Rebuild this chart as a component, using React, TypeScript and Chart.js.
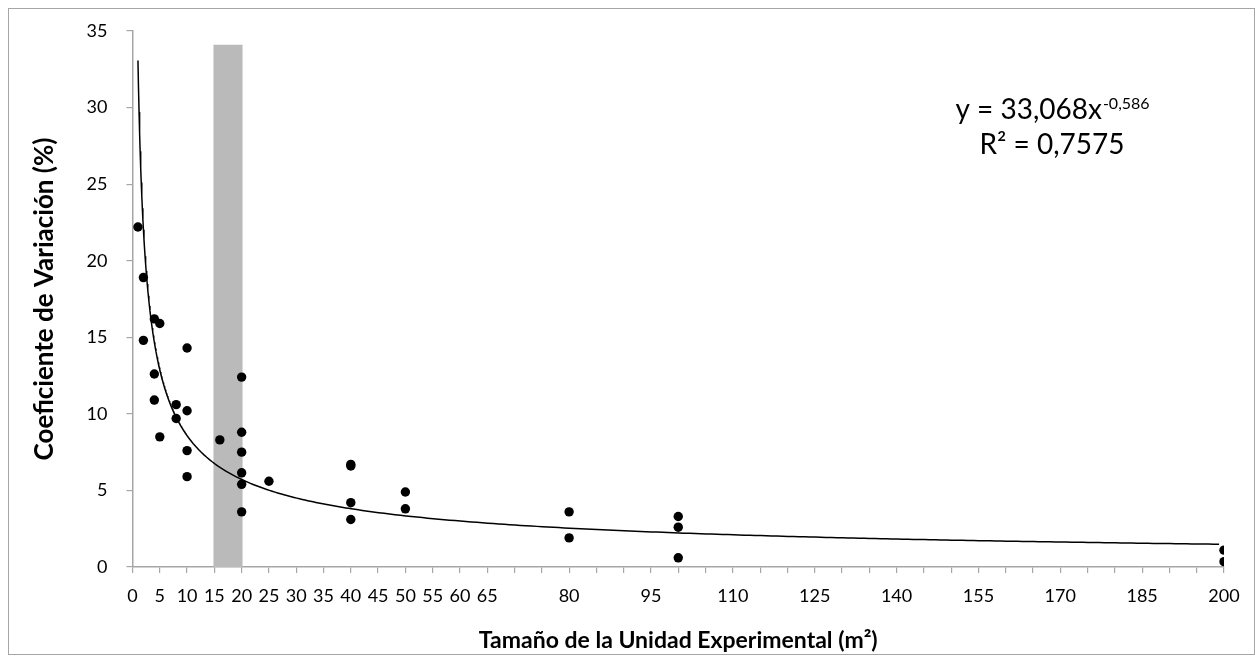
import React, { useEffect, useRef } from 'react';
import { Chart, registerables } from 'chart.js';

Chart.register(...registerables);

// Scatter data: plot size (m²) and coefficient of variation (%)
const plotSizes = [1, 2, 2, 4, 4, 4, 5, 5, 8, 8, 10, 10, 10, 10, 16, 20, 20, 20, 20, 20, 20, 25, 40, 40, 40, 40, 50, 50, 80, 80, 100, 100, 100, 200, 200];
const cvValues = [22.2, 18.9, 14.8, 16.2, 12.6, 10.9, 15.9, 8.5, 10.6, 9.7, 14.3, 10.2, 7.6, 5.9, 8.3, 12.4, 8.8, 7.5, 6.15, 5.4, 3.6, 5.6, 6.7, 6.6, 4.2, 3.1, 4.9, 3.8, 3.6, 1.9, 3.3, 2.6, 0.6, 1.1, 0.35];

// Highlighted band (x range) and its height
const bandX = [14.8, 20.2];
const bandTop = 34.1;

// Power trendline shown in the chart: y = a * x^b
const trendA = 33.068;
const trendB = -0.586;
const trendRange = [1, 200];

// Tick labels
const xTickLabels = [0, 5, 10, 15, 20, 25, 30, 35, 40, 45, 50, 55, 60, 65, 80, 95, 110, 125, 140, 155, 170, 185, 200];
const yTickValues = [0, 5, 10, 15, 20, 25, 30, 35];

const equationText = 'y = 33,068x';
const equationExp = '-0,586';
const r2Text = 'R² = 0,7575';

const FONT = 'Lato, "Open Sans", sans-serif';

export default function App() {
  const ref = useRef<HTMLCanvasElement | null>(null);

  useEffect(() => {
    const canvas = ref.current;
    if (!canvas) return;

    const trendPts: { x: number; y: number }[] = [];
    for (let x = trendRange[0]; x <= trendRange[1]; x += x < 10 ? 0.1 : x < 40 ? 0.5 : 1) {
      trendPts.push({ x, y: trendA * Math.pow(x, trendB) });
    }

    const equationPlugin = {
      id: 'equation',
      afterDraw(chart: any) {
        const ctx = chart.ctx as CanvasRenderingContext2D;
        ctx.save();
        ctx.fillStyle = '#000';
        ctx.textBaseline = 'alphabetic';
        const cx = 1043;
        ctx.font = `28px ${FONT}`;
        const w1 = ctx.measureText(equationText).width;
        ctx.font = `16px ${FONT}`;
        const w2 = ctx.measureText(equationExp).width;
        const start = cx - (w1 + w2) / 2;
        ctx.font = `28px ${FONT}`;
        ctx.textAlign = 'left';
        ctx.fillText(equationText, start, 109.5);
        ctx.font = `16px ${FONT}`;
        ctx.fillText(equationExp, start + w1 + 1, 100);
        ctx.font = `28px ${FONT}`;
        ctx.textAlign = 'center';
        ctx.fillText(r2Text, cx, 144.5);
        ctx.restore();
      },
    };

    const chart = new Chart(canvas, {
      type: 'scatter',
      data: {
        datasets: [
          {
            type: 'scatter',
            label: 'CV',
            data: plotSizes.map((x, i) => ({ x, y: cvValues[i] })),
            backgroundColor: '#000',
            borderWidth: 0,
            pointRadius: 4.7,
            order: 1,
          },
          {
            type: 'line',
            label: 'Tendencia',
            data: trendPts,
            borderColor: '#000',
            borderWidth: 1.5,
            pointRadius: 0,
            fill: false,
            tension: 0,
            order: 2,
          },
          {
            type: 'line',
            label: 'Banda',
            data: bandX.map((x) => ({ x, y: bandTop })),
            borderColor: 'rgba(0,0,0,0)',
            borderWidth: 0,
            backgroundColor: '#BABABA',
            pointRadius: 0,
            fill: 'origin',
            order: 3,
          },
        ] as any,
      },
      options: {
        animation: false,
        responsive: false,
        devicePixelRatio: 1,
        layout: { padding: { left: 0, right: 30, top: 22, bottom: 0 } },
        plugins: {
          legend: { display: false },
          tooltip: { enabled: false },
        },
        scales: {
          x: {
            type: 'linear',
            min: 0,
            max: 200,
            afterFit: (s: any) => {
              s.height = 87;
            },
            ticks: {
              stepSize: 5,
              autoSkip: false,
              maxRotation: 0,
              minRotation: 0,
              padding: 12,
              color: '#000',
              font: { family: FONT, size: 18 },
              callback: (v: any) => (xTickLabels.includes(Number(v)) ? String(v) : ''),
            },
            grid: {
              drawOnChartArea: false,
              drawTicks: true,
              tickLength: 6,
              color: '#A6A6A6',
              lineWidth: 1.2,
            },
            border: { color: '#A6A6A6', width: 1.5 },
            title: {
              display: true,
              text: 'Tamaño de la Unidad Experimental (m²)',
              color: '#000',
              font: { family: FONT, size: 23, weight: 'bold' },
              padding: { top: 0, bottom: 0 },
            },
          },
          y: {
            type: 'linear',
            min: 0,
            max: 35,
            afterFit: (s: any) => {
              s.width = 123.5;
              s.paddingTop = 0;
              s.paddingBottom = 0;
            },
            afterBuildTicks: (s: any) => {
              s.ticks = yTickValues.map((v) => ({ value: v }));
            },
            ticks: {
              padding: 19,
              color: '#000',
              font: { family: FONT, size: 18 },
            },
            grid: {
              drawOnChartArea: false,
              drawTicks: true,
              tickLength: 6,
              color: '#A6A6A6',
              lineWidth: 1.2,
            },
            border: { color: '#A6A6A6', width: 1.5 },
            title: {
              display: true,
              text: 'Coeficiente de Variación (%)',
              color: '#000',
              font: { family: FONT, size: 26, weight: 'bold' },
              padding: { top: 20, bottom: 0 },
            },
          },
        },
      } as any,
      plugins: [equationPlugin],
    });

    return () => chart.destroy();
  }, []);

  return (
    <div
      style={{
        position: 'fixed',
        left: 8,
        top: 8,
        width: 1247,
        height: 647,
        border: '1px solid #A6A6A6',
        boxSizing: 'border-box',
        background: '#fff',
      }}
    >
      <canvas ref={ref} width={1245} height={645} style={{ display: 'block' }} />
    </div>
  );
}
